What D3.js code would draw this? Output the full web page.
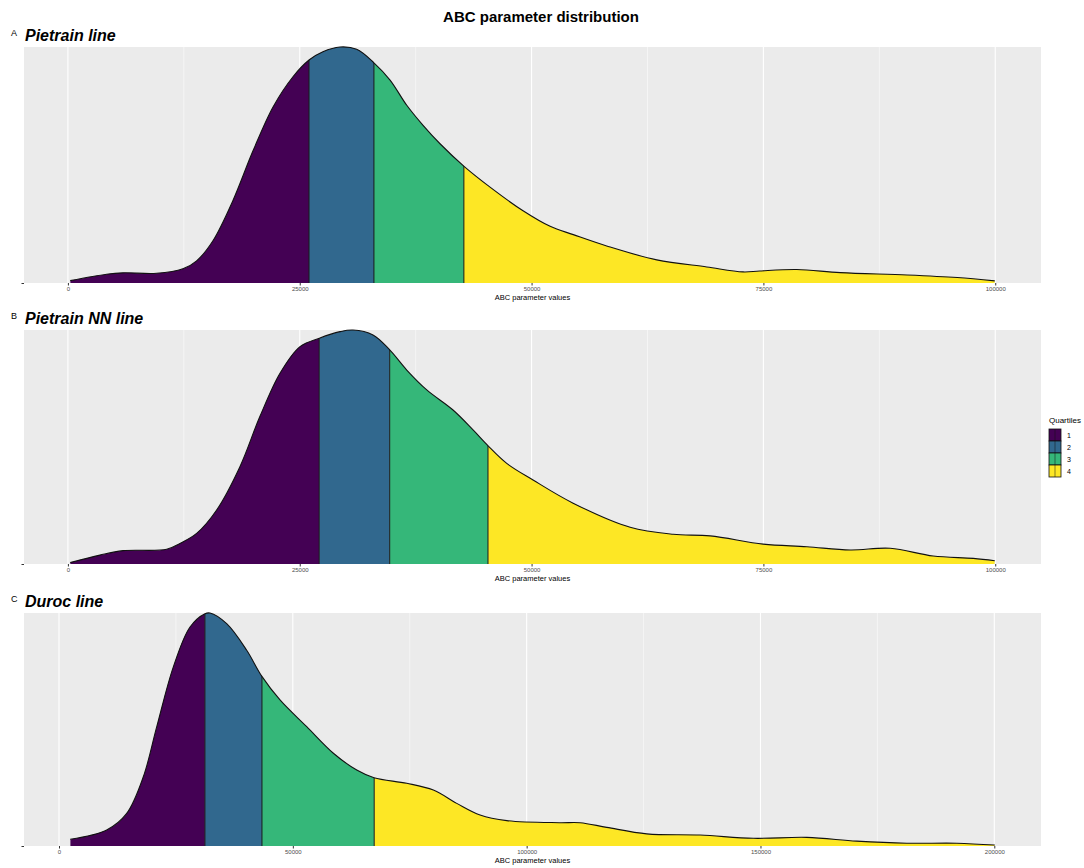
<!DOCTYPE html>
<html>
<head>
<meta charset="utf-8">
<script src="https://cdn.jsdelivr.net/npm/d3@7"></script>
<style>
body { margin: 0; background: #fff; }
text { font-family: "Liberation Sans", Arial, sans-serif; }
</style>
</head>
<body>
<svg class="chart" width="1084" height="868"></svg>
<script>
// density curves (relative density, peak = 1)
var pietrainX = [250, 4170, 5940, 9570, 12400, 13880, 15640, 17800, 19960, 22120, 24270, 26000, 27500, 29340, 31140, 33000, 34740, 36540, 38300, 40130, 42720, 45520, 49080, 52000, 54500, 58100, 63500, 68900, 72800, 74600, 78600, 83300, 90500, 95900, 99950];
var pietrainY = [0.01, 0.037, 0.043, 0.041, 0.06, 0.094, 0.179, 0.35, 0.56, 0.746, 0.874, 0.945, 0.98, 1.0, 0.99, 0.933, 0.86, 0.753, 0.668, 0.59, 0.494, 0.406, 0.306, 0.24, 0.205, 0.157, 0.098, 0.068, 0.047, 0.051, 0.057, 0.044, 0.034, 0.023, 0.009];
var pietrainQuartiles = [26000, 33000, 42700];

var pietrainNNX = [250, 3450, 5940, 10650, 12080, 13880, 16040, 18550, 20700, 22870, 25030, 27110, 29340, 30740, 32900, 34660, 36540, 38700, 41530, 43690, 45340, 47320, 50160, 54480, 60630, 65260, 69260, 74970, 79690, 84360, 88670, 93310, 97630, 99950];
var pietrainNNY = [0.006, 0.038, 0.057, 0.063, 0.088, 0.131, 0.231, 0.416, 0.63, 0.815, 0.929, 0.965, 0.993, 1.0, 0.979, 0.917, 0.829, 0.744, 0.658, 0.573, 0.504, 0.43, 0.359, 0.26, 0.157, 0.127, 0.12, 0.085, 0.074, 0.06, 0.067, 0.034, 0.024, 0.014];
var pietrainNNQuartiles = [27100, 34700, 45300];

var durocX = [2400, 10200, 14480, 18030, 20890, 24450, 28020, 31220, 32290, 35860, 40140, 43350, 47260, 52970, 58670, 63670, 67370, 74360, 80050, 85050, 90040, 95750, 107000, 111420, 117130, 125680, 137080, 148480, 159890, 170580, 181280, 191970, 200100];
var durocY = [0.029, 0.069, 0.14, 0.297, 0.511, 0.769, 0.94, 0.997, 1.0, 0.954, 0.84, 0.729, 0.627, 0.512, 0.398, 0.326, 0.293, 0.269, 0.24, 0.183, 0.133, 0.109, 0.1, 0.1, 0.08, 0.052, 0.047, 0.033, 0.037, 0.021, 0.012, 0.012, 0.004];
var durocQuartiles = [31200, 43400, 67400];

var ticksPietrain = [0, 25000, 50000, 75000, 100000];
var ticksDuroc = [0, 50000, 100000, 150000, 200000];
var quartileLabels = ["1", "2", "3", "4"];
var colors = ["#440154", "#31688e", "#35b779", "#fde725"];

var left = 24, right = 1041;

var panels = [
  {letter: "A", title: "Pietrain line", xs: pietrainX, ys: pietrainY, q: pietrainQuartiles, ticks: ticksPietrain, top: 47, bottom: 283},
  {letter: "B", title: "Pietrain NN line", xs: pietrainNNX, ys: pietrainNNY, q: pietrainNNQuartiles, ticks: ticksPietrain, top: 330, bottom: 564},
  {letter: "C", title: "Duroc line", xs: durocX, ys: durocY, q: durocQuartiles, ticks: ticksDuroc, top: 613, bottom: 846}
];

var svg = d3.select(".chart");
var defs = svg.append("defs");

svg.append("text")
  .attr("x", 541).attr("y", 22)
  .attr("text-anchor", "middle")
  .style("font-size", "15px").style("font-weight", "bold")
  .text("ABC parameter distribution");

panels.forEach(drawPanel);
drawLegend();

function drawPanel(p, i) {
  var ext = d3.extent(p.xs), pad = (ext[1] - ext[0]) * 0.05;
  var x = d3.scaleLinear().domain([ext[0] - pad, ext[1] + pad]).range([left, right]);
  var y = d3.scaleLinear().domain([0, d3.max(p.ys)]).range([p.bottom, p.top]);
  var pts = p.xs.map((v, j) => [v, p.ys[j]]);

  var g = svg.append("g");

  g.append("rect")
    .attr("x", left).attr("y", p.top)
    .attr("width", right - left).attr("height", p.bottom - p.top)
    .attr("fill", "#ebebeb");

  // grid: minor half way between major ticks
  var minor = d3.pairs(p.ticks).map(d => (d[0] + d[1]) / 2);
  g.selectAll(".minor").data(minor).enter().append("line")
    .attr("x1", d => x(d)).attr("x2", d => x(d))
    .attr("y1", p.top).attr("y2", p.bottom)
    .attr("stroke", "#fff").attr("stroke-width", 0.5);
  g.selectAll(".major").data(p.ticks).enter().append("line")
    .attr("x1", d => x(d)).attr("x2", d => x(d))
    .attr("y1", p.top).attr("y2", p.bottom)
    .attr("stroke", "#fff").attr("stroke-width", 1.1);

  var curve = d3.curveCatmullRom.alpha(0.5);
  var area = d3.area()
    .x(d => x(d[0])).y0(y(0)).y1(d => y(d[1]))
    .curve(curve);
  var line = d3.line()
    .x(d => x(d[0])).y(d => y(d[1]))
    .curve(curve);

  // one filled piece per quartile
  var cuts = [ext[0]].concat(p.q, [ext[1]]);
  d3.pairs(cuts).forEach((c, k) => {
    var id = "q" + i + "_" + k;
    defs.append("clipPath").attr("id", id)
      .append("rect")
      .attr("x", x(c[0])).attr("y", p.top)
      .attr("width", x(c[1]) - x(c[0])).attr("height", p.bottom - p.top);
    g.append("path").datum(pts)
      .attr("d", area)
      .attr("fill", colors[k])
      .attr("clip-path", "url(#" + id + ")");
  });

  // quartile lines, cut to the curve
  defs.append("clipPath").attr("id", "shape" + i)
    .append("path").datum(pts).attr("d", area);
  g.selectAll(".qline").data(p.q).enter().append("line")
    .attr("x1", d => x(d)).attr("x2", d => x(d))
    .attr("y1", p.bottom).attr("y2", p.top)
    .attr("stroke", "#1a1a1a").attr("stroke-width", 1)
    .attr("clip-path", "url(#shape" + i + ")");

  g.append("path").datum(pts)
    .attr("d", line)
    .attr("fill", "none")
    .attr("stroke", "#111").attr("stroke-width", 1.1);

  // axes
  var xAxis = g.append("g")
    .attr("transform", "translate(0," + p.bottom + ")")
    .call(d3.axisBottom(x).tickValues(p.ticks).tickFormat(d3.format("d")).tickSize(2.5).tickPadding(1.5));
  xAxis.select(".domain").remove();
  xAxis.selectAll("line").attr("stroke", "#333");
  xAxis.selectAll("text").attr("fill", "#4d4d4d").style("font-size", "6px");

  var yAxis = g.append("g")
    .attr("transform", "translate(" + left + ",0)")
    .call(d3.axisLeft(y).tickValues([0]).tickFormat("").tickSize(2.5));
  yAxis.select(".domain").remove();
  yAxis.selectAll("line").attr("stroke", "#333");

  g.append("text")
    .attr("x", (left + right) / 2).attr("y", p.bottom + 17)
    .attr("text-anchor", "middle")
    .style("font-size", "7.5px")
    .text("ABC parameter values");

  g.append("text")
    .attr("x", 11).attr("y", p.top - 11)
    .style("font-size", "9px")
    .text(p.letter);
  g.append("text")
    .attr("x", 25).attr("y", p.top - 6)
    .style("font-size", "16px").style("font-weight", "bold").style("font-style", "italic")
    .text(p.title);
}

function drawLegend() {
  var legend = svg.append("g").attr("transform", "translate(1049,423)");

  legend.append("text")
    .style("font-size", "8px")
    .text("Quartiles");

  var keys = legend.selectAll(".key").data(quartileLabels).enter().append("g")
    .attr("transform", (d, i) => "translate(0," + (6 + i * 12) + ")");

  keys.append("rect")
    .attr("width", 12).attr("height", 12)
    .attr("fill", (d, i) => colors[i])
    .attr("stroke", "#111").attr("stroke-width", 0.8);
  keys.append("line")
    .attr("x1", 6).attr("x2", 6).attr("y1", 0).attr("y2", 12)
    .attr("stroke", "#111").attr("stroke-width", 0.5);
  keys.append("text")
    .attr("x", 18).attr("y", 8.5)
    .style("font-size", "7px")
    .text(d => d);
}
</script>
</body>
</html>
